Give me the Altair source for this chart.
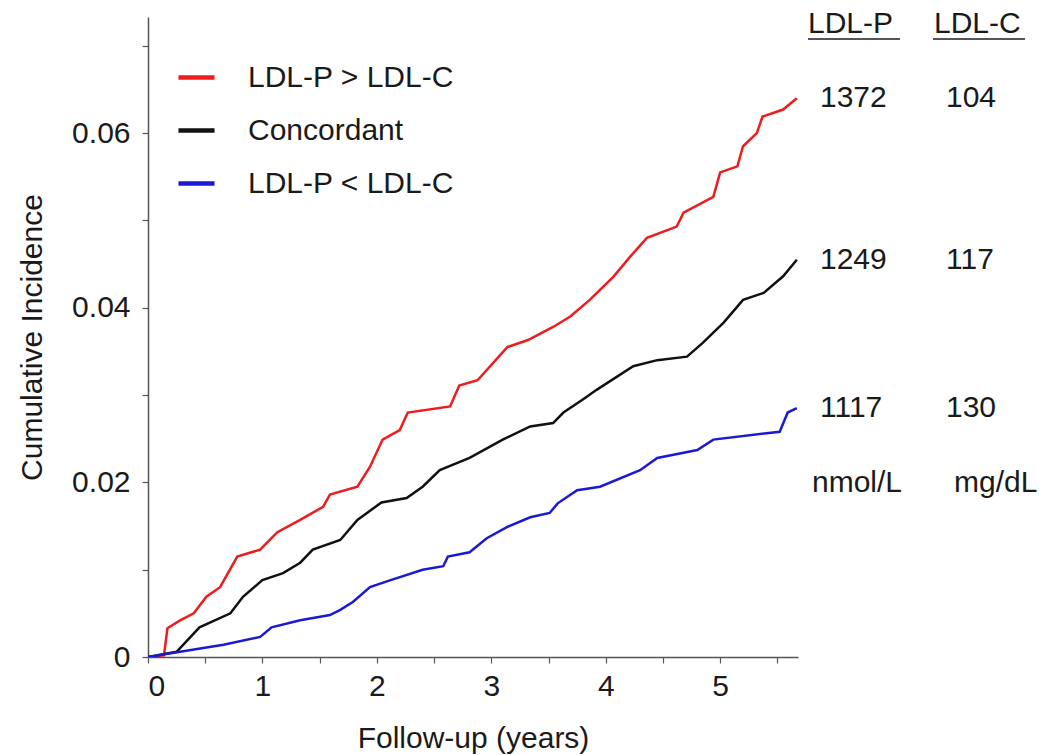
import altair as alt
import pandas as pd

# ---- data ----
series_names = ["LDL-P > LDL-C", "Concordant", "LDL-P < LDL-C"]
series_colors = ["#ee1c1c", "#111111", "#1a1ad6"]

red_x = [0, 0.14, 0.17, 0.28, 0.40, 0.51, 0.63, 0.78, 0.98, 1.13, 1.33, 1.53, 1.59, 1.83,
         1.94, 2.05, 2.20, 2.27, 2.64, 2.72, 2.88, 3.14, 3.32, 3.54, 3.69, 3.86, 4.07, 4.21,
         4.36, 4.62, 4.68, 4.94, 5.00, 5.15, 5.20, 5.32, 5.37, 5.55, 5.67]
red_y = [0, 0.0002, 0.0033, 0.0042, 0.0050, 0.0069, 0.0080, 0.0115, 0.0123, 0.0143, 0.0157,
         0.0172, 0.0186, 0.0195, 0.0218, 0.0249, 0.0260, 0.0280, 0.0287, 0.0311, 0.0317,
         0.0355, 0.0363, 0.0378, 0.0390, 0.0409, 0.0436, 0.0458, 0.0480, 0.0493, 0.0509,
         0.0527, 0.0555, 0.0562, 0.0585, 0.0600, 0.0619, 0.0627, 0.0640]

black_x = [0, 0.25, 0.45, 0.72, 0.83, 1.00, 1.18, 1.33, 1.44, 1.68, 1.83, 2.04, 2.26, 2.40,
           2.55, 2.81, 3.10, 3.34, 3.54, 3.63, 3.80, 3.92, 4.24, 4.45, 4.71, 4.85, 5.03,
           5.20, 5.38, 5.55, 5.67]
black_y = [0, 0.0006, 0.0034, 0.0050, 0.0069, 0.0088, 0.0096, 0.0108, 0.0123, 0.0134,
           0.0157, 0.0177, 0.0182, 0.0195, 0.0214, 0.0228, 0.0249, 0.0264, 0.0268, 0.0280,
           0.0295, 0.0306, 0.0333, 0.0340, 0.0344, 0.0360, 0.0383, 0.0409, 0.0417, 0.0436,
           0.0455]

blue_x = [0, 0.28, 0.66, 0.98, 1.08, 1.33, 1.59, 1.68, 1.79, 1.94, 2.12, 2.40, 2.58, 2.62,
          2.81, 2.96, 3.14, 3.34, 3.51, 3.58, 3.75, 3.95, 4.30, 4.45, 4.80, 4.94, 5.52,
          5.59, 5.67]
blue_y = [0, 0.0006, 0.0014, 0.0023, 0.0034, 0.0042, 0.0048, 0.0054, 0.0063, 0.0080,
          0.0088, 0.0100, 0.0104, 0.0115, 0.0120, 0.0136, 0.0149, 0.0160, 0.0165, 0.0176,
          0.0191, 0.0195, 0.0214, 0.0228, 0.0237, 0.0249, 0.0258, 0.0280, 0.0285]

ldlp_values = ["1372", "1249", "1117"]
ldlc_values = ["104", "117", "130"]
col_headers = ["LDL-P", "LDL-C"]
unit_labels = ["nmol/L", "mg/dL"]

x_ticks = [0, 0.5, 1, 1.5, 2, 2.5, 3, 3.5, 4, 4.5, 5, 5.5]
y_ticks = [0, 0.01, 0.02, 0.03, 0.04, 0.05, 0.06, 0.07]

# ---- tables ----
rows = []
for name, xs, ys in zip(series_names, [red_x, black_x, blue_x], [red_y, black_y, blue_y]):
    for i, (a, b) in enumerate(zip(xs, ys)):
        rows.append({"series": name, "t": a, "ci": b, "order": i})
curves = pd.DataFrame(rows)

ends = [red_y[-1], black_y[-1], blue_y[-1]]
tab = pd.DataFrame({"ldlp": ldlp_values, "ldlc": ldlc_values, "ci": ends})

FONT = "Liberation Sans"
FS = 30
TXT = "#1a1a1a"

xscale = alt.Scale(domain=[0, 5.68], nice=False, zero=False)
yscale = alt.Scale(domain=[0, 0.0733], nice=False)

axis_style = dict(grid=False, tickSize=6, domainColor="#555555", tickColor="#555555",
                  domainWidth=1.5, tickWidth=1.2, labelFont=FONT, labelFontSize=FS,
                  labelColor=TXT, titleFont=FONT, titleFontSize=FS, titleColor=TXT,
                  titleFontWeight="normal", labelFontWeight="normal")

lines = alt.Chart(curves).mark_line(strokeWidth=2.5, interpolate="linear", clip=True).encode(
    x=alt.X("t:Q", scale=xscale,
            axis=alt.Axis(title="Follow-up (years)", values=x_ticks,
                          labelExpr="datum.value % 1 == 0 ? format(datum.value, 'd') : ''",
                          labelPadding=8, titlePadding=22, **axis_style)),
    y=alt.Y("ci:Q", scale=yscale,
            axis=alt.Axis(title="Cumulative Incidence", values=y_ticks,
                          labelExpr="datum.value == 0 ? '0' : (round(datum.value*100) % 2 == 0 ? format(datum.value, '.2f') : '')",
                          labelPadding=12, titlePadding=24, **axis_style)),
    color=alt.Color("series:N",
                    scale=alt.Scale(domain=series_names, range=series_colors),
                    legend=alt.Legend(title=None, orient="none", legendX=28, legendY=40,
                                      symbolType="stroke", symbolSize=1300,
                                      symbolStrokeWidth=4.5, labelFont=FONT,
                                      labelFontSize=FS, labelColor=TXT, labelLimit=0,
                                      rowPadding=17, labelOffset=31, padding=0)),
    order="order:Q",
)

num1 = alt.Chart(tab).mark_text(align="left", baseline="middle", font=FONT, fontSize=FS,
                                color=TXT).encode(
    x=alt.value(672), y=alt.Y("ci:Q", scale=yscale), text="ldlp:N")
num2 = alt.Chart(tab).mark_text(align="left", baseline="middle", font=FONT, fontSize=FS,
                                color=TXT).encode(
    x=alt.value(798), y=alt.Y("ci:Q", scale=yscale), text="ldlc:N")

hdr = pd.DataFrame({"h": col_headers, "px": [660, 786], "u": unit_labels, "upx": [664, 806]})
head = alt.Chart(hdr).mark_text(align="left", baseline="middle", font=FONT, fontSize=FS,
                                color=TXT).encode(
    x=alt.X("px:Q", scale=None), y=alt.value(7), text="h:N")
units = alt.Chart(hdr).mark_text(align="left", baseline="middle", font=FONT, fontSize=FS,
                                 color=TXT).encode(
    x=alt.X("upx:Q", scale=None), y=alt.value(466), text="u:N")

ul = pd.DataFrame({"a": [660, 785], "b": [752, 877]})
underline = alt.Chart(ul).mark_rule(color="#555555", strokeWidth=2).encode(
    x=alt.X("a:Q", scale=None), x2="b:Q", y=alt.value(22))

chart = alt.layer(lines, num1, num2, head, units, underline).properties(
    width=650, height=640,
    background="white",
    autosize=alt.AutoSizeParams(type="none"),
    padding={"left": 148, "top": 17, "right": 248, "bottom": 98},
).configure_view(stroke=None)

chart.save("out.html", embed_options={"renderer": "svg", "actions": False})
